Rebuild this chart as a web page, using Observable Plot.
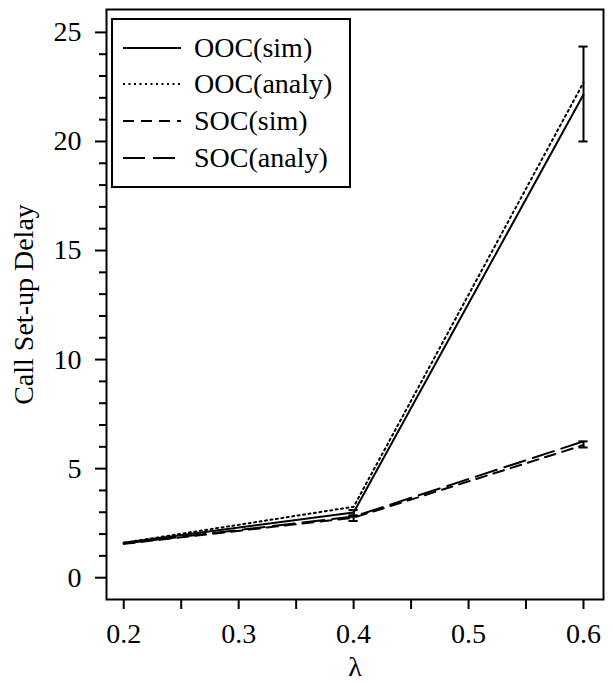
<!DOCTYPE html>
<html>
<head>
<meta charset="utf-8">
<script src="https://cdn.jsdelivr.net/npm/d3@7"></script>
<script src="https://cdn.jsdelivr.net/npm/@observablehq/plot@0.6"></script>
<style>
  html, body { margin: 0; padding: 0; background: #fff; }
  #wrap { position: relative; width: 613px; height: 683px; font-family: "Liberation Serif", "Times New Roman", serif; }
  #wrap svg text { font-family: "Liberation Serif", "Times New Roman", serif; }
  #legend { position: absolute; left: 111px; top: 18px; width: 236px; height: 166px; border: 2px solid #000; background: #fff; box-sizing: content-box; }
  .row { position: absolute; left: 0; height: 32px; display: flex; align-items: center; }
  .row svg { margin-left: 10px; }
  .row span { margin-left: 13px; font-size: 28px; line-height: 32px; color: #000; }
</style>
</head>
<body>
<div id="wrap"></div>
<script>
// ---- data ----
const lambdas = [0.2, 0.4, 0.6];
const oocSim = [1.60, 2.99, 22.15];
const oocAnaly = [1.60, 3.25, 22.7];
const socSim = [1.55, 2.75, 6.08];
const socAnaly = [1.57, 2.80, 6.25];
const seriesNames = ["OOC(sim)", "OOC(analy)", "SOC(sim)", "SOC(analy)"];
const seriesDash = [null, "2,3.5", "11,7", "22,8"];

// error bars (sim series)
const errX = [0.4, 0.6, 0.4, 0.6];
const errLow = [2.85, 20.0, 2.6, 5.97];
const errHigh = [3.1, 24.35, 2.85, 6.25];

// ticks
const xMajorTicks = [0.2, 0.3, 0.4, 0.5, 0.6];
const xMinorTicks = [0.25, 0.35, 0.45, 0.55];
const yMajorTicks = [0, 5, 10, 15, 20, 25];
const yMinorTicks = [1,2,3,4,6,7,8,9,11,12,13,14,16,17,18,19,21,22,23,24];

const xLabel = "λ";
const yLabel = "Call Set-up Delay";

// ---- build ----
const allSeries = [oocSim, oocAnaly, socSim, socAnaly];
const rows = [];
allSeries.forEach((vals, si) => vals.forEach((v, i) => rows.push({series: seriesNames[si], x: lambdas[i], y: v})));
const errRows = errX.map((x, i) => ({x, lo: errLow[i], hi: errHigh[i]}));
const capHalf = 0.004;

const fs = 28;

const marks = [];
seriesNames.forEach((name, si) => {
  marks.push(Plot.line(rows.filter(d => d.series === name), {
    x: "x", y: "y", stroke: "#000", strokeWidth: 2,
    strokeDasharray: seriesDash[si] ?? undefined
  }));
});
marks.push(
  Plot.ruleX(errRows, {x: "x", y1: "lo", y2: "hi", stroke: "#000", strokeWidth: 2}),
  Plot.ruleY(errRows, {y: "lo", x1: d => d.x - capHalf, x2: d => d.x + capHalf, stroke: "#000", strokeWidth: 2}),
  Plot.ruleY(errRows, {y: "hi", x1: d => d.x - capHalf, x2: d => d.x + capHalf, stroke: "#000", strokeWidth: 2}),
  // tick marks
  Plot.axisY({ticks: yMajorTicks, tickSize: 11, strokeWidth: 2, strokeOpacity: 1, tickFormat: () => "", label: null}),
  Plot.axisY({ticks: yMinorTicks, tickSize: 7, strokeWidth: 2, strokeOpacity: 1, tickFormat: () => "", label: null}),
  Plot.axisX({ticks: xMajorTicks, tickSize: 10, strokeWidth: 2, strokeOpacity: 1, tickFormat: () => "", label: null}),
  Plot.axisX({ticks: xMinorTicks, tickSize: 10, strokeWidth: 2, strokeOpacity: 1, tickFormat: () => "", label: null}),
  // tick labels (positioned via scales)
  Plot.text(yMajorTicks, {y: d => d, frameAnchor: "left", dx: -25, textAnchor: "end", lineAnchor: "middle", text: d => String(d), fontSize: fs, fill: "#000"}),
  Plot.text(xMajorTicks, {x: d => d, frameAnchor: "bottom", dy: 35, textAnchor: "middle", lineAnchor: "middle", text: d => d.toFixed(1), fontSize: fs, fill: "#000"}),
  Plot.frame({stroke: "#000", strokeWidth: 2}),
  Plot.text([xLabel], {frameAnchor: "bottom", textAnchor: "middle", lineAnchor: "middle", dy: 68, fontSize: fs, fill: "#000"}),
  Plot.text([yLabel], {frameAnchor: "left", textAnchor: "middle", lineAnchor: "middle", rotate: -90, dx: -82, fontSize: fs, fill: "#000"})
);

const chart = Plot.plot({
  width: 613,
  height: 683,
  marginLeft: 106,
  marginRight: 10,
  marginTop: 9,
  marginBottom: 84,
  style: {fontFamily: "Liberation Serif", fontSize: fs + "px", color: "#000", background: "#fff", overflow: "visible"},
  x: {domain: [0.185, 0.6174]},
  y: {domain: [-1.0, 26.05]},
  marks
});

const wrap = document.getElementById("wrap");
wrap.appendChild(chart);

// legend overlay
const legend = document.createElement("div");
legend.id = "legend";
const rowY = [12, 48, 85, 122];
seriesNames.forEach((name, i) => {
  const r = document.createElement("div");
  r.className = "row";
  r.style.top = rowY[i] + "px";
  const dash = seriesDash[i] ? ` stroke-dasharray="${seriesDash[i]}"` : "";
  r.innerHTML = `<svg width="58" height="10"><line x1="0" y1="5" x2="58" y2="5" stroke="#000" stroke-width="2"${dash}/></svg><span>${name}</span>`;
  legend.appendChild(r);
});
wrap.appendChild(legend);
</script>
</body>
</html>
